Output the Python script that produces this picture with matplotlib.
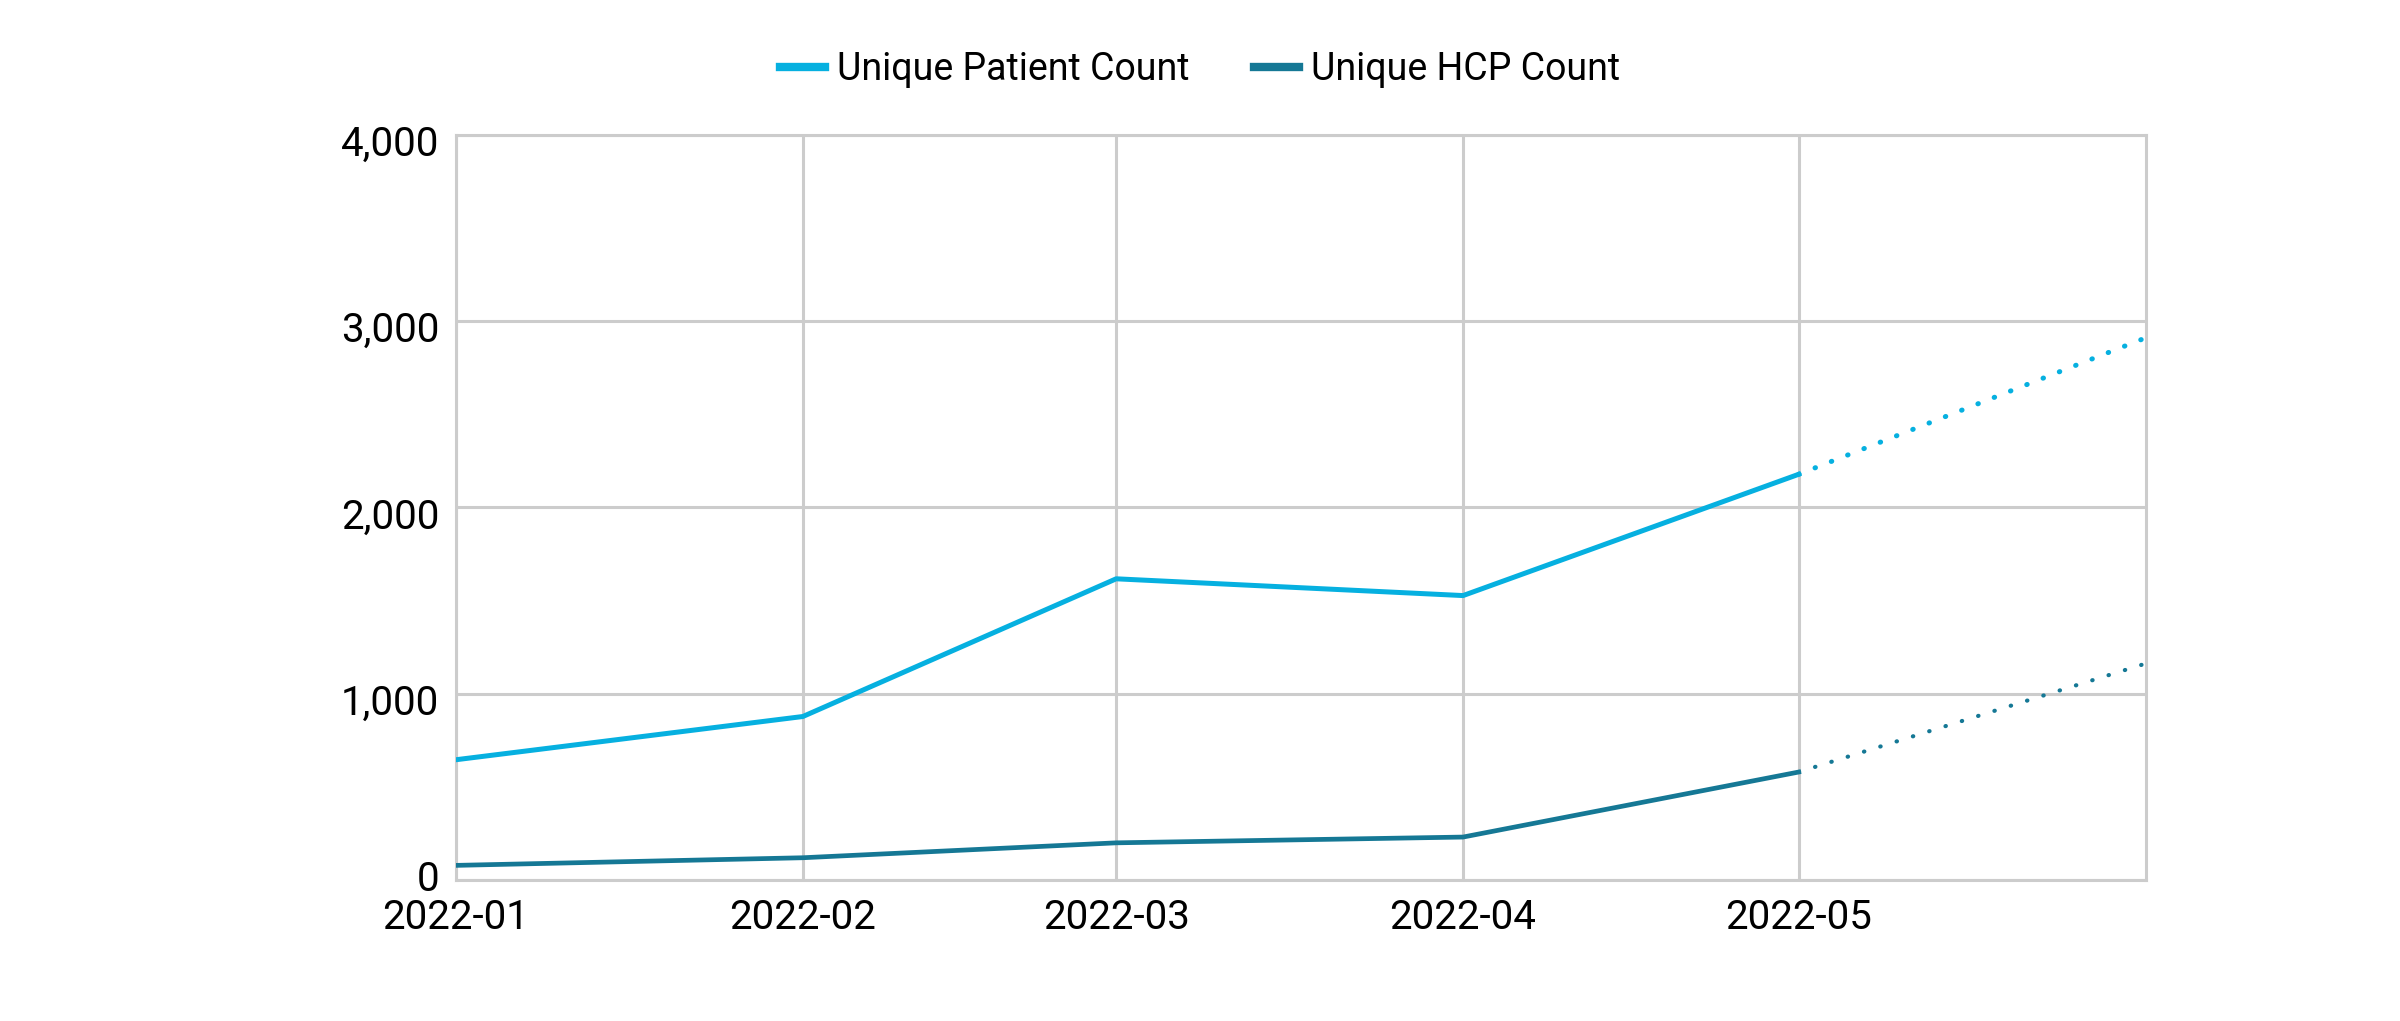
import matplotlib
matplotlib.use("Agg")
import matplotlib.pyplot as plt
import matplotlib.transforms as mtransforms
import numpy as np
from matplotlib.ticker import FuncFormatter

plt.rcParams['font.family'] = ['Roboto', 'DejaVu Sans']

# data
months = np.array(["2022-01-01", "2022-02-01", "2022-03-01", "2022-04-01", "2022-05-01"], dtype="datetime64[D]")
month_labels = ["2022-01", "2022-02", "2022-03", "2022-04", "2022-05"]
patients = [646, 878, 1617, 1527, 2178]
hcps = [79, 120, 200, 231, 580]

# projected segment (dotted)
proj_dates = np.array(["2022-05-01", "2022-06-01"], dtype="datetime64[D]")
patients_proj = [2178, 2910]
hcps_proj = [580, 1162]

c_pat = "#06b0e0"
c_hcp = "#157895"
grid_c = "#cccccc"

fig = plt.figure(figsize=(24, 10.21), dpi=100)
ax = fig.add_axes([0.190, 0.138, 0.704, 0.730])

ax.plot(months, patients, color=c_pat, lw=3.6, label="Unique Patient Count", zorder=3)
ax.plot(months, hcps, color=c_hcp, lw=3.4, label="Unique HCP Count", zorder=3)
ax.plot(proj_dates, patients_proj, color=c_pat, lw=3.6, linestyle=(0, (0.1, 3.4)),
        dash_capstyle="round", zorder=3)
ax.plot(proj_dates, hcps_proj, color=c_hcp, lw=3.0, linestyle=(0, (0.1, 4.0)),
        dash_capstyle="round", zorder=3)

ax.set_xlim(np.datetime64("2022-01-01"), np.datetime64("2022-06-01"))
ax.set_ylim(0, 4000)
ax.set_xticks(months)
ax.set_xticklabels(month_labels)
ax.set_yticks([0, 1000, 2000, 3000, 4000])
ax.yaxis.set_major_formatter(FuncFormatter(lambda v, p: f"{int(v):,}"))

ax.grid(True, color=grid_c, lw=2.2)
ax.set_axisbelow(True)
for s in ax.spines.values():
    s.set_color(grid_c)
    s.set_linewidth(2.2)
ax.tick_params(length=0, labelsize=29, colors="black")
ax.tick_params(axis="y", pad=12)
ax.tick_params(axis="x", pad=13)

# nudge y labels a little down like the original, the 0 sits a bit higher
fig.canvas.draw()
for lab in ax.get_yticklabels():
    dy = 3 if lab.get_text() == "0" else -4
    shift = mtransforms.ScaledTranslation(0, dy / 72, fig.dpi_scale_trans)
    lab.set_transform(lab.get_transform() + shift)

leg = fig.legend(loc="center", bbox_to_anchor=(0.5, 0.932), ncol=2, frameon=False,
                 fontsize=27, handlelength=1.2, handletextpad=0.33, columnspacing=1.7)
for h in leg.get_lines():
    h.set_linewidth(6)

fig.savefig("out.png", dpi=100)
